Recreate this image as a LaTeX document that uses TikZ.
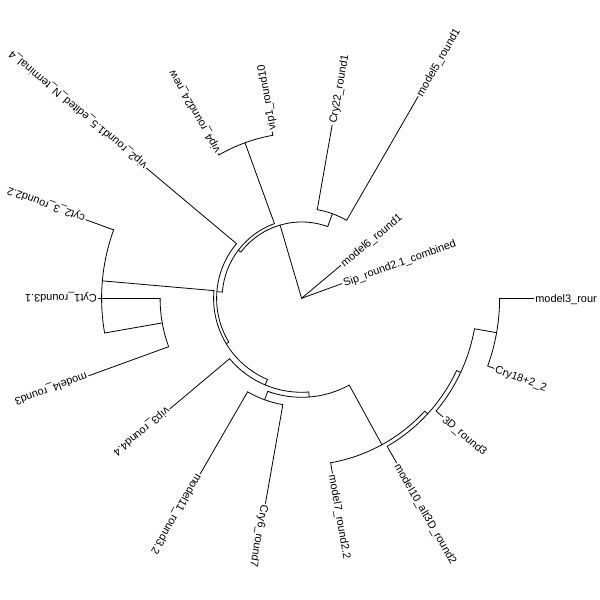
\documentclass[tikz,border=0pt]{standalone}
\usepackage{fontspec}
\setmainfont{Liberation Sans}
\newcommand\TBr[4]{\coordinate (#1-b) at (#2:#3bp);\coordinate (#1) at (#2:#4bp);\draw[br] (#1-b) -- (#1);}
\newcommand\TArc[3]{\draw[br] (#1:#3bp) arc[start angle=#1, end angle=#2, radius=#3bp];}
\begin{document}
\begin{tikzpicture}[x=1bp,y=1bp,
  br/.style={draw=black, line width=0.8bp, line cap=round, line join=round},
  lab/.style={anchor=west, font=\fontsize{11}{13}\selectfont, inner sep=1.5bp, text height=7.9bp, text depth=0bp}]
\useasboundingbox (0,0) rectangle (600,600);
\fill[white] (0,0) rectangle (600,600);
\clip (0,0) rectangle (600,600);
\begin{scope}[shift={(301.6,301.7)}]
% root children
\TBr{sip}{20}{0}{43}
\TBr{m6}{40}{0}{51}
\TBr{N1}{106.39}{0}{76.3}
% N1
\TArc{70}{142.77}{76.3}
\TBr{P}{70}{76.3}{90}
\TBr{X}{142.77}{76.3}{79.5}
% P
\TArc{60}{80}{90}
\TBr{m5}{60}{90}{233}
\TBr{c22}{80}{90}{176}
% X
\TArc{110}{175.55}{79.5}
\TBr{Q}{110}{79.5}{165.5}
\TBr{Y}{175.55}{79.5}{85}
% Q
\TArc{100}{120}{165.5}
\TBr{v1}{100}{165.5}{169}
\TBr{v4}{120}{165.5}{167}
% Y
\TArc{140}{211.09}{85}
\TBr{v2}{140}{85}{202.5}
\TBr{Z}{211.09}{85}{88}
% Z
\TArc{175}{247.19}{88}
\TBr{R2}{175}{88}{200}
\TBr{W}{247.19}{88}{94}
% R2
\TArc{160}{190}{200}
\TBr{cy23}{160}{200}{229.7}
\TBr{R1}{190}{200}{141.5}
% R1
\TArc{180}{200}{141.5}
\TBr{cy1}{180}{141.5}{203}
\TBr{m4}{200}{141.5}{226.7}
% W
\TArc{220}{274.375}{94}
\TBr{v3}{220}{94}{172}
\TBr{V}{274.375}{94}{99}
% V
\TArc{250}{298.75}{99}
\TBr{S}{250}{99}{108}
\TBr{E}{298.75}{99}{167}
% S
\TArc{240}{260}{108}
\TBr{m11}{240}{108}{202.4}
\TBr{c6}{260}{108}{208.3}
% E
\TArc{280}{317.5}{167}
\TBr{m7}{280}{167}{177.7}
\TBr{E2}{317.5}{167}{171}
% E2
\TArc{300}{335}{171}
\TBr{m10}{300}{171}{190}
\TBr{E3}{335}{171}{175.5}
% E3
\TArc{320}{350}{175.5}
\TBr{d3}{320}{175.5}{184.5}
\TBr{A}{350}{175.5}{198}
% A
\TArc{340}{360}{198}
\TBr{c18}{340}{198}{205}
\TBr{m3}{360}{198}{232}
% labels
\node[lab,rotate=20] (Lsip) at (sip) {Sip\_round2.1\_combined};
\node[lab,rotate=40] (Lm6) at (m6) {model6\_round1};
\node[lab,rotate=60] (Lm5) at (m5) {model5\_round1};
\node[lab,rotate=80] (Lc22) at (c22) {Cry22\_round1};
\node[lab,rotate=100] (Lv1) at (v1) {vip1\_round10};
\node[lab,rotate=120] (Lv4) at (v4) {vip4\_round24\_new};
\node[lab,rotate=140] (Lv2) at (v2) {vip2\_round1.5\_edited\_N\_terminal\_4};
\node[lab,rotate=160] (Lcy23) at (cy23) {cyt2\_3\_round2.2};
\node[lab,rotate=180] (Lcy1) at (cy1) {Cyt1\_round3.1};
\node[lab,rotate=200] (Lm4) at (m4) {model4\_round3};
\node[lab,rotate=220] (Lv3) at (v3) {vip3\_round4.4};
\node[lab,rotate=240] (Lm11) at (m11) {model11\_round3.2};
\node[lab,rotate=260] (Lc6) at (c6) {Cry6\_round7};
\node[lab,rotate=280] (Lm7) at (m7) {model7\_round2.2};
\node[lab,rotate=300] (Lm10) at (m10) {model10\_alt3D\_round2};
\node[lab,rotate=320] (Ld3) at (d3) {3D\_round3};
\node[lab,rotate=340] (Lc18) at (c18) {Cry18+2\_2};
\node[lab,rotate=0] (Lm3) at (m3) {model3\_rour};
\end{scope}
\end{tikzpicture}
\end{document}
